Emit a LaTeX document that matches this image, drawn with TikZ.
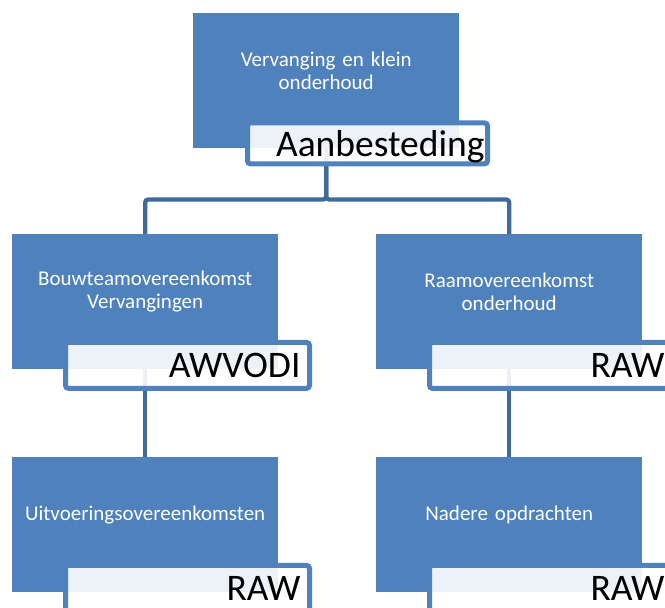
\documentclass[tikz,border=0pt]{standalone}
\usepackage{fontspec}
\setmainfont{Carlito}

\definecolor{boxblue}{HTML}{4F81BD}
\definecolor{linkblue}{HTML}{416A9C}

\tikzset{
	box/.style={fill=boxblue, anchor=north west, minimum width=266pt, minimum height=135pt, inner sep=0pt},
	boxtext/.style={text=white, font=\fontsize{21}{23}\selectfont, align=center, text width=250pt, yshift=10pt},
	tag/.style={draw=boxblue, line width=5pt, rounded corners=3pt, fill=white, fill opacity=0.9, text opacity=1,
		anchor=north west, minimum width=244pt, minimum height=46pt, text width=226pt, inner xsep=9pt, inner ysep=0pt,
		align=right, font=\fontsize{37.5}{40}\selectfont, text height=29pt, text depth=5pt},
	conn/.style={draw=linkblue, line width=4.3pt, rounded corners=3pt}
}

\begin{document}
\begin{tikzpicture}[x=1pt,y=-1pt]
	\path[use as bounding box, clip] (0,0) rectangle (665,608);

	\node[box] (top) at (193,13) {};
	\node[box] (bouw) at (12,234) {};
	\node[box] (raam) at (376,234) {};
	\node[box] (uitv) at (12,457) {};
	\node[box] (nader) at (376,457) {};

	\node[boxtext] (topText) at (top.center) {Vervanging en klein\\onderhoud};
	\node[boxtext] (bouwText) at (bouw.center) {Bouwteamovereenkomst\\Vervangingen};
	\node[boxtext] (raamText) at (raam.center) {Raamovereenkomst\\onderhoud};
	\node[boxtext] (uitvText) at (uitv.center) {Uitvoeringsovereenkomsten};
	\node[boxtext] (naderText) at (nader.center) {Nadere opdrachten};

	\draw[conn] (top.south) -- (top.south |- 0,199.5) -| (bouw.north);
	\draw[conn] (top.south) -- (top.south |- 0,199.5) -| (raam.north);
	\draw[conn] (bouw.south) -- (uitv.north);
	\draw[conn] (raam.south) -- (nader.north);

	\node[tag, minimum width=240pt, minimum height=41pt, text width=234pt, inner xsep=3pt, text depth=2pt] (topTag) at ([xshift=52pt,yshift=28pt]top.south west) {Aanbesteding};
	\node[tag] (bouwTag) at ([xshift=51pt,yshift=29.5pt]bouw.south west) {AWVODI};
	\node[tag] (raamTag) at ([xshift=51pt,yshift=29.5pt]raam.south west) {RAW};
	\node[tag] (uitvTag) at ([xshift=51pt,yshift=29.5pt]uitv.south west) {RAW};
	\node[tag] (naderTag) at ([xshift=51pt,yshift=29.5pt]nader.south west) {RAW};
\end{tikzpicture}
\end{document}
